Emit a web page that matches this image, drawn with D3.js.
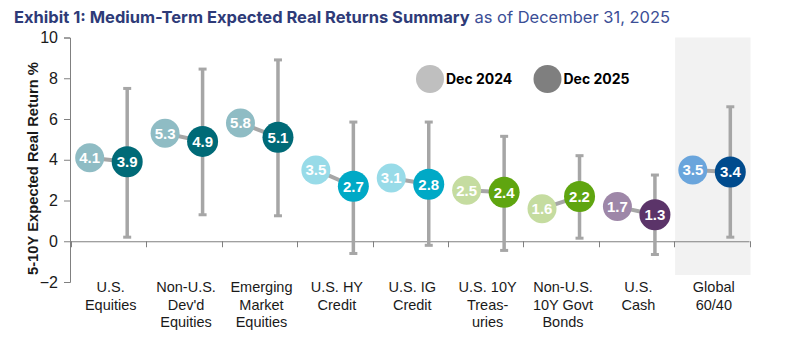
<!DOCTYPE html>
<html>
<head>
<meta charset="utf-8">
<script src="https://cdn.jsdelivr.net/npm/d3@7"></script>
<style>
  body { margin: 0; background: #fff; }
  svg text { font-family: "Liberation Sans", Arial, sans-serif; }
</style>
</head>
<body>
<div id="chart"></div>
<script>
// data
var categories = ["U.S.|Equities", "Non-U.S.|Dev'd|Equities", "Emerging|Market|Equities",
    "U.S. HY|Credit", "U.S. IG|Credit", "U.S. 10Y|Treas-|uries", "Non-U.S.|10Y Govt|Bonds",
    "U.S.|Cash", "Global|60/40"];
var dec2024 = [4.1, 5.3, 5.8, 3.5, 3.1, 2.5, 1.6, 1.7, 3.5];
var dec2025 = [3.9, 4.9, 5.1, 2.7, 2.8, 2.4, 2.2, 1.3, 3.4];
var rangeHigh = [7.5, 8.45, 8.9, 5.85, 5.85, 5.15, 4.2, 3.25, 6.6];
var rangeLow = [0.2, 1.3, 1.25, -0.6, -0.2, -0.45, 0.15, -0.65, 0.2];
var colors2024 = ["#8fbcc4", "#8fbcc4", "#8fbcc4", "#98dbe8", "#98dbe8", "#c5dca0", "#c5dca0", "#9e87a8", "#6aa5dc"];
var colors2025 = ["#006a77", "#006a77", "#006a77", "#00a9c6", "#00a9c6", "#5fa510", "#5fa510", "#5b3469", "#004b8d"];
var yTicks = [-2, 0, 2, 4, 6, 8, 10];
var legendItems = [{ name: "Dec 2024", color: "#bfbfbf" }, { name: "Dec 2025", color: "#7f7f7f" }];

var width = 788, height = 350;
var svg = d3.select("#chart").append("svg")
    .attr("width", width)
    .attr("height", height);

var x = d3.scaleBand()
    .domain(categories)
    .range([71, 749.5]);

var y = d3.scaleLinear()
    .domain([-2, 10])
    .range([282, 37.5]);

var rows = categories.map(function(c, i) {
    return { cat: c, a: dec2024[i], b: dec2025[i], hi: rangeHigh[i], lo: rangeLow[i], ca: colors2024[i], cb: colors2025[i] };
});

// shaded Global 60/40 column
var last = categories[categories.length - 1];
svg.append("rect")
    .attr("x", x(last) + 1)
    .attr("y", y(10))
    .attr("width", x.bandwidth())
    .attr("height", 275 - y(10))
    .attr("fill", "#f2f2f2");

// title
var title = svg.append("text")
    .attr("x", 14)
    .attr("y", 23)
    .style("font-family", "Inter, 'Noto Sans', sans-serif")
    .style("font-size", "16.5px")
    .attr("fill", "#2e3b78");
title.append("tspan").style("font-weight", "bold").text("Exhibit 1: Medium-Term Expected Real Returns Summary");
title.append("tspan").attr("fill", "#3b4e96").text(" as of December 31, 2025");

// y axis
var yAxis = svg.append("g")
    .attr("transform", "translate(70,0)")
    .call(d3.axisLeft(y).tickValues(yTicks).tickSize(6).tickPadding(6));
yAxis.select(".domain").attr("stroke", "#808080");
yAxis.selectAll(".tick line").attr("stroke", "#808080");
yAxis.selectAll(".tick text")
    .style("font-size", "16px")
    .attr("fill", "#1a1a1a");

svg.append("text")
    .attr("transform", "translate(38,168.5) rotate(-90)")
    .attr("text-anchor", "middle")
    .style("font-size", "15px")
    .style("font-weight", "bold")
    .attr("fill", "#1a1a1a")
    .attr("textLength", 213)
    .attr("lengthAdjust", "spacingAndGlyphs")
    .text("5-10Y Expected Real Return %");

// x axis along zero line
var xAxis = svg.append("g")
    .attr("transform", "translate(0," + y(0) + ")")
    .call(d3.axisBottom(x).tickSize(0).tickFormat(""));
xAxis.select(".domain").attr("stroke", "#808080").attr("d", "M70,0.5H749.5");
xAxis.selectAll(".tick").remove();
var edges = categories.map(function(c) { return x(c); }).concat([x.range()[1]]);
xAxis.selectAll(".edge")
    .data(edges)
    .enter().append("line")
    .attr("x1", function(d) { return Math.round(d) + 0.5; })
    .attr("x2", function(d) { return Math.round(d) + 0.5; })
    .attr("y1", 0)
    .attr("y2", 6)
    .attr("stroke", "#808080");

// category labels
var labels = svg.selectAll(".cat")
    .data(rows)
    .enter().append("text")
    .attr("class", "cat")
    .attr("text-anchor", "middle")
    .style("font-size", "14.5px")
    .attr("fill", "#1a1a1a");
labels.each(function(d) {
    var t = d3.select(this);
    d.cat.split("|").forEach(function(line, k) {
        t.append("tspan")
            .attr("x", x(d.cat) + x.bandwidth() / 2 + 2)
            .attr("y", 292 + k * 17.5)
            .text(line);
    });
});

var off2024 = -19, off2025 = 18.5;

// error bars
var bars = svg.selectAll(".err").data(rows).enter().append("g").attr("class", "err");
bars.append("line")
    .attr("x1", function(d) { return x(d.cat) + x.bandwidth() / 2 + off2025; })
    .attr("x2", function(d) { return x(d.cat) + x.bandwidth() / 2 + off2025; })
    .attr("y1", function(d) { return y(d.hi); })
    .attr("y2", function(d) { return y(d.lo); })
    .attr("stroke", "#a6a6a6")
    .attr("stroke-width", 3.5);
["hi", "lo"].forEach(function(k) {
    bars.append("rect")
        .attr("x", function(d) { return x(d.cat) + x.bandwidth() / 2 + off2025 - 4; })
        .attr("y", function(d) { return y(d[k]) - 1.5; })
        .attr("width", 8)
        .attr("height", 3)
        .attr("fill", "#a6a6a6");
});

// connectors
svg.selectAll(".conn")
    .data(rows)
    .enter().append("line")
    .attr("x1", function(d) { return x(d.cat) + x.bandwidth() / 2 + off2024; })
    .attr("x2", function(d) { return x(d.cat) + x.bandwidth() / 2 + off2025; })
    .attr("y1", function(d) { return y(d.a); })
    .attr("y2", function(d) { return y(d.b); })
    .attr("stroke", "#a6a6a6")
    .attr("stroke-width", 4);

// dots
function dots(key, colorKey, off, r) {
    var g = svg.selectAll(".dot-" + key)
        .data(rows)
        .enter().append("g")
        .attr("transform", function(d) {
            return "translate(" + (x(d.cat) + x.bandwidth() / 2 + off) + "," + y(d[key]) + ")";
        });
    g.append("circle")
        .attr("r", r)
        .attr("fill", function(d) { return d[colorKey]; });
    g.append("text")
        .attr("text-anchor", "middle")
        .attr("dy", "0.36em")
        .style("font-size", "15px")
        .style("font-weight", "bold")
        .attr("fill", "#fff")
        .text(function(d) { return d3.format(".1f")(d[key]); });
}
dots("a", "ca", off2024, 14.5);
dots("b", "cb", off2025, 15.5);

// legend
var legend = svg.selectAll(".legend")
    .data(legendItems)
    .enter().append("g")
    .attr("transform", function(d, i) { return "translate(" + (430 + i * 117.5) + ",79)"; });
legend.append("circle")
    .attr("r", 14)
    .attr("fill", function(d) { return d.color; });
legend.append("text")
    .attr("x", 16)
    .attr("dy", "0.36em")
    .style("font-family", "Inter, 'Noto Sans', sans-serif")
    .style("font-size", "14px")
    .style("font-weight", "bold")
    .attr("fill", "#000")
    .text(function(d) { return d.name; });
</script>
</body>
</html>
